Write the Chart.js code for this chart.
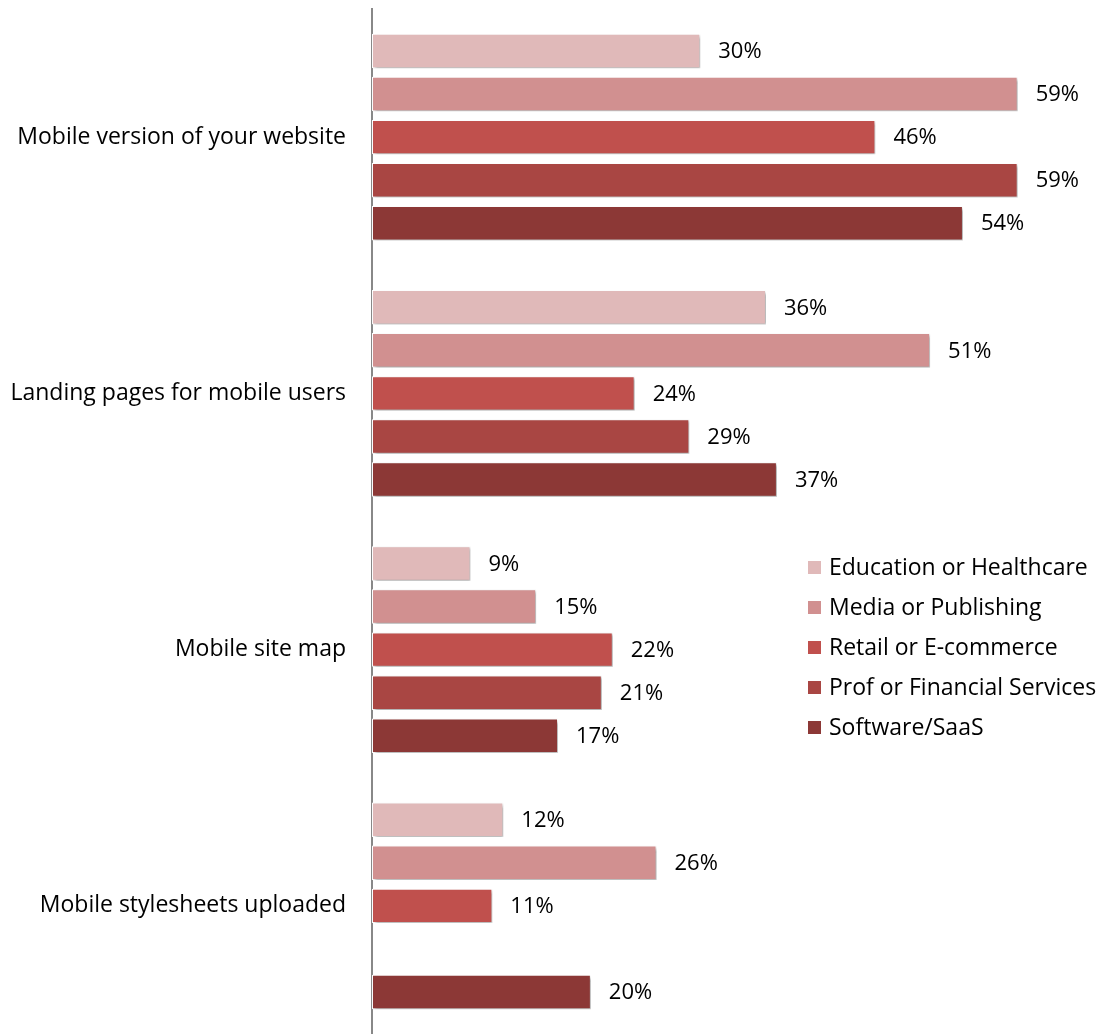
<!DOCTYPE html>
<html>
<head>
<meta charset="utf-8">
<script src="https://cdn.jsdelivr.net/npm/chart.js@4.4.1/dist/chart.umd.min.js"></script>
<style>
  html, body { margin: 0; padding: 0; background: #fff; }
  #wrap { width: 1103px; height: 1034px; position: relative; }
</style>
</head>
<body>
<div id="wrap"><canvas id="chart"></canvas></div>
<script>
const categories = [
    'Mobile version of your website',
    'Landing pages for mobile users',
    'Mobile site map',
    'Mobile stylesheets uploaded'
];
const seriesNames = [
    'Education or Healthcare',
    'Media or Publishing',
    'Retail or E-commerce',
    'Prof or Financial Services',
    'Software/SaaS'
];
const education = [30, 36, 9, 12];
const media = [59, 51, 15, 26];
const retail = [46, 24, 22, 11];
const prof = [59, 29, 21, null];
const software = [54, 37, 17, 20];

const colors = ['#e0b9b9', '#d19090', '#c0504d', '#a94643', '#8c3836'];
const FONT = '"Open Sans", "Noto Sans", sans-serif';

const barShadow = {
    id: 'barShadow',
    beforeDatasetsDraw(chart) {
        const ctx = chart.ctx;
        ctx.save();
        ctx.shadowColor = 'rgba(0,0,0,0.35)';
        ctx.shadowOffsetX = 2;
        ctx.shadowOffsetY = 2;
        ctx.shadowBlur = 3;
    },
    afterDatasetsDraw(chart) {
        chart.ctx.restore();
    }
};

const valueLabels = {
    id: 'valueLabels',
    afterDraw(chart) {
        const ctx = chart.ctx;
        ctx.save();
        ctx.font = '22px ' + FONT;
        ctx.fillStyle = '#000';
        ctx.textAlign = 'left';
        ctx.textBaseline = 'middle';
        chart.data.datasets.forEach((ds, i) => {
            chart.getDatasetMeta(i).data.forEach((bar, j) => {
                const v = ds.data[j];
                if (v == null) return;
                ctx.fillText(v + '%', bar.x + 18, bar.y + 1);
            });
        });
        ctx.restore();
    }
};

const boxLegend = {
    id: 'boxLegend',
    afterDraw(chart) {
        const ctx = chart.ctx;
        ctx.save();
        ctx.font = '23px ' + FONT;
        ctx.textBaseline = 'middle';
        chart.data.datasets.forEach((ds, i) => {
            const y = 567 + i * 40;
            ctx.fillStyle = ds.backgroundColor;
            ctx.fillRect(808, y - 6, 13, 13);
            ctx.fillStyle = '#000';
            ctx.fillText(ds.label, 829, y + 1);
        });
        ctx.restore();
    }
};

const seriesData = [education, media, retail, prof, software];

new Chart(document.getElementById('chart'), {
    type: 'bar',
    data: {
        labels: categories,
        datasets: seriesNames.map((name, i) => ({
            label: name,
            data: seriesData[i],
            backgroundColor: colors[i],
            borderColor: '#ffffff',
            borderWidth: 1,
            borderSkipped: false,
            barPercentage: 0.8,
            categoryPercentage: 0.84
        }))
    },
    options: {
        indexAxis: 'y',
        responsive: true,
        maintainAspectRatio: false,
        animation: false,
        layout: { padding: { top: 9, right: 0, bottom: 0, left: 0 } },
        plugins: {
            legend: { display: false },
            tooltip: { enabled: false }
        },
        scales: {
            x: {
                display: false,
                min: 0,
                max: 66.8
            },
            y: {
                grid: { display: false, drawTicks: false },
                border: { display: true, color: '#888888', width: 2 },
                ticks: {
                    color: '#000',
                    padding: 26,
                    font: { family: FONT, size: 23 }
                },
                afterFit(scale) {
                    scale.width = 372;
                    scale.paddingTop = 0;
                    scale.paddingBottom = 0;
                }
            }
        }
    },
    plugins: [barShadow, valueLabels, boxLegend]
});
</script>
</body>
</html>
